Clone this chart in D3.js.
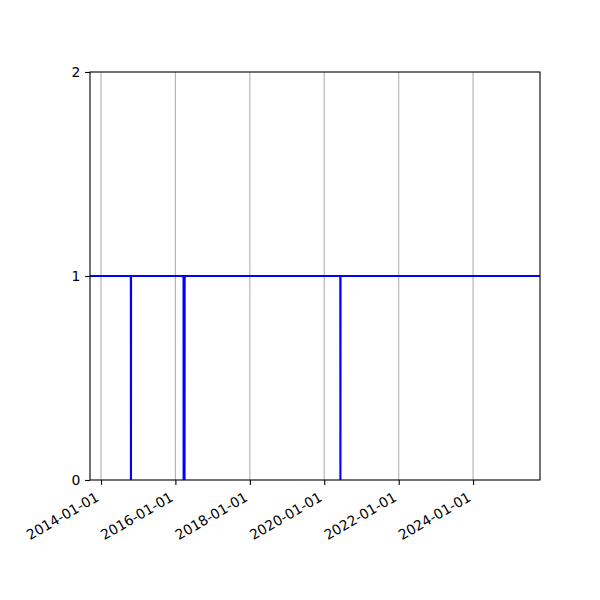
<!DOCTYPE html>
<html>
<head>
<meta charset="utf-8">
<script src="https://cdn.jsdelivr.net/npm/d3@7"></script>
<style>
  body { margin: 0; background: #fff; }
  text { font-family: "DejaVu Sans", sans-serif; }
</style>
</head>
<body>
<svg id="chart" width="600" height="600"></svg>
<script>
// series: stays at 1, drops to 0 on a few days
const dates = [
  "2013-09-15",
  "2014-10-21", "2014-10-22", "2014-10-23",
  "2016-03-21", "2016-03-22", "2016-03-23", "2016-03-30", "2016-03-31", "2016-04-01",
  "2020-06-07", "2020-06-08", "2020-06-09",
  "2025-10-19"
];
const values = [1, 1, 0, 1, 1, 0, 1, 1, 0, 1, 1, 0, 1, 1];
const yTicks = [0, 1, 2];
const xTickDates = ["2014-01-01", "2016-01-01", "2018-01-01", "2020-01-01", "2022-01-01", "2024-01-01"];

const parse = d3.utcParse("%Y-%m-%d");
const data = dates.map((d, i) => ({ date: parse(d), value: values[i] }));

const margin = { left: 90, right: 60, top: 72, bottom: 120 };
const width = 600, height = 600;

const svg = d3.select("#chart");

const x = d3.scaleUtc()
  .domain(d3.extent(data, d => d.date))
  .range([margin.left, width - margin.right]);
const y = d3.scaleLinear()
  .domain([0, 2])
  .range([height - margin.bottom, margin.top]);

// clip to plot area
svg.append("defs").append("clipPath").attr("id", "plotClip")
  .append("rect")
  .attr("x", margin.left).attr("y", margin.top)
  .attr("width", width - margin.left - margin.right)
  .attr("height", height - margin.top - margin.bottom);

// vertical grid lines
const grid = svg.append("g").attr("id", "grid");
grid.selectAll("line")
  .data(xTickDates.map(parse))
  .join("line")
  .attr("x1", d => x(d)).attr("x2", d => x(d))
  .attr("y1", margin.top).attr("y2", height - margin.bottom)
  .attr("stroke", "#b0b0b0")
  .attr("stroke-width", 1.1);

// the series line
svg.append("path")
  .datum(data)
  .attr("clip-path", "url(#plotClip)")
  .attr("fill", "none")
  .attr("stroke", "#0000ff")
  .attr("stroke-width", 2.1)
  .attr("d", d3.line().x(d => x(d.date)).y(d => y(d.value)));

// x axis
const xAxis = svg.append("g")
  .attr("transform", `translate(0,${height - margin.bottom})`)
  .call(d3.axisBottom(x).tickValues(xTickDates.map(parse)).tickFormat(d3.utcFormat("%Y-%m-%d")).tickSizeInner(4.9).tickSizeOuter(0));
xAxis.select(".domain").remove();
xAxis.selectAll(".tick line").attr("stroke", "#000").attr("stroke-width", 1.1);
xAxis.selectAll(".tick text")
  .attr("fill", "#000")
  .attr("font-size", 13.9)
  .attr("text-anchor", "end")
  .attr("y", 0).attr("dy", 0)
  .attr("transform", "translate(-1.6,20) rotate(-30)");

// y axis
const yAxis = svg.append("g")
  .attr("transform", `translate(${margin.left},0)`)
  .call(d3.axisLeft(y).tickValues(yTicks).tickFormat(d3.format("d")).tickSizeInner(4.9).tickSizeOuter(0));
yAxis.select(".domain").remove();
yAxis.selectAll(".tick line").attr("stroke", "#000").attr("stroke-width", 1.1);
yAxis.selectAll(".tick text")
  .attr("fill", "#000")
  .attr("font-size", 13.9)
  .attr("x", -9.7)
  .attr("dy", "0.35em");

// spines
svg.append("rect")
  .attr("x", margin.left).attr("y", margin.top)
  .attr("width", width - margin.left - margin.right)
  .attr("height", height - margin.top - margin.bottom)
  .attr("fill", "none")
  .attr("stroke", "#000")
  .attr("stroke-width", 1.1);
</script>
</body>
</html>
